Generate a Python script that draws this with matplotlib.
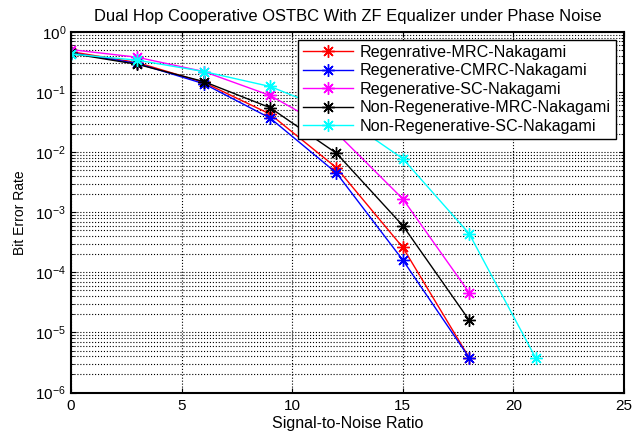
import matplotlib
matplotlib.use("Agg")
import matplotlib.pyplot as plt
from matplotlib.ticker import FixedLocator, NullFormatter

plt.rcParams['font.family'] = ['Liberation Sans', 'DejaVu Sans']
plt.rcParams['mathtext.fontset'] = 'custom'
plt.rcParams['mathtext.rm'] = 'Liberation Sans'

snr = [0, 3, 6, 9, 12, 15, 18]
snr_nsc = [0, 3, 6, 9, 12, 15, 18, 21]

regen_mrc = [0.47, 0.31, 0.145, 0.043, 0.0055, 0.00026, 3.8e-6]
regen_cmrc = [0.45, 0.30, 0.138, 0.037, 0.0045, 0.00016, 3.8e-6]
regen_sc = [0.51, 0.38, 0.22, 0.088, 0.021, 0.00167, 4.6e-5]
nonregen_mrc = [0.44, 0.29, 0.15, 0.055, 0.0096, 0.0006, 1.6e-5]
nonregen_sc = [0.43, 0.34, 0.22, 0.124, 0.045, 0.0078, 0.00044, 3.8e-6]

labels = ['Regenrative-MRC-Nakagami', 'Regenerative-CMRC-Nakagami',
          'Regenerative-SC-Nakagami', 'Non-Regenerative-MRC-Nakagami',
          'Non-Regenerative-SC-Nakagami']
colors = ['#ff0000', '#0000ff', '#ff00ff', '#000000', '#00ffff']

x_ticks = [0, 5, 10, 15, 20, 25]
decades = list(range(-6, 1))

fig = plt.figure(figsize=(6.33, 4.34), dpi=100)
ax = fig.add_axes([0.1122, 0.0956, 0.8736, 0.8306])

series = [(snr, regen_mrc), (snr, regen_cmrc), (snr, regen_sc),
          (snr, nonregen_mrc), (snr_nsc, nonregen_sc)]
asterisk = (8, 2, 0)
for (x, y), lab, c in zip(series, labels, colors):
    ax.semilogy(x, y, '-', marker=asterisk, color=c, label=lab, linewidth=1.0,
                markersize=9, markeredgewidth=1.0)

ax.set_xlim(0, 25)
ax.set_ylim(1e-6, 1)
ax.set_xticks(x_ticks)
major = [10.0 ** d for d in decades]
minor = [m * 10.0 ** d for d in decades[:-1] for m in range(2, 10)]
ax.yaxis.set_major_locator(FixedLocator(major))
ax.yaxis.set_minor_locator(FixedLocator(minor))
ax.yaxis.set_minor_formatter(NullFormatter())

ax.grid(True, which='major', axis='both', color='black', linestyle=':', linewidth=0.8)
ax.grid(True, which='minor', axis='y', color='black', linestyle=':', linewidth=0.8)

ax.tick_params(which='both', direction='in', top=True, right=True, labelsize=11)
ax.tick_params(which='minor', labelleft=False, labelbottom=False)
ax.tick_params(axis='x', pad=5)
for s in ax.spines.values():
    s.set_linewidth(1.5)

ax.set_xlabel('Signal-to-Noise Ratio', fontsize=11.5, labelpad=2)
ax.set_ylabel('Bit Error Rate', fontsize=10, labelpad=6)
ax.set_title('Dual Hop Cooperative OSTBC With ZF Equalizer under Phase Noise',
             fontsize=11.9, pad=8)

leg = ax.legend(loc='upper right', bbox_to_anchor=(0.9855, 0.978), fontsize=11.6,
                fancybox=False, framealpha=1, edgecolor='black',
                borderpad=0.3, labelspacing=0.22, handlelength=3.1,
                handletextpad=0.43, borderaxespad=0)
leg.get_frame().set_linewidth(1.0)

fig.savefig('out.png', dpi=100)
